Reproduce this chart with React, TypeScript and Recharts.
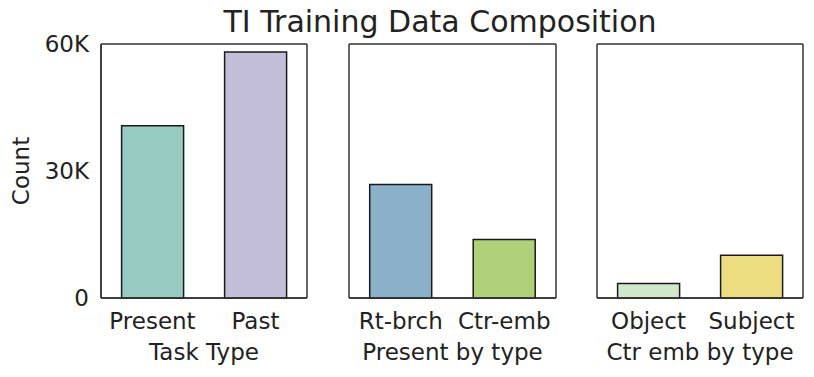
import { BarChart, Bar, XAxis, YAxis, Cell, CartesianGrid } from 'recharts';

const taskTypes = ['Present', 'Past'];
const taskCounts = [40700, 58100];
const presentTypes = ['Rt-brch', 'Ctr-emb'];
const presentCounts = [26800, 13800];
const ctrTypes = ['Object', 'Subject'];
const ctrCounts = [3400, 10100];
const yTicks = [0, 30000, 60000];

const FONT = 'DejaVu Sans';
const INK = '#222';
const FS = 23;

const fmtK = (v: number) => (v === 0 ? '0' : `${v / 1000}K`);

type PanelProps = {
  left: number;
  width: number;
  marginLeft: number;
  marginRight: number;
  cats: string[];
  counts: number[];
  colors: string[];
  xLabel: string;
  showY?: boolean;
};

const Panel = ({ left, width, marginLeft, marginRight, cats, counts, colors, xLabel, showY }: PanelProps) => {
  const data = cats.map((name, i) => ({ name, value: counts[i] }));
  return (
    <div style={{ position: 'absolute', left, top: 0 }}>
      <BarChart
        width={width}
        height={377}
        data={data}
        margin={{ top: 44, right: marginRight, bottom: 0, left: marginLeft }}
        barCategoryGap="20%"
        style={{ overflow: 'visible' }}
      >
        {/* frame around the plot area */}
        <CartesianGrid
          stroke="#333"
          strokeWidth={1.5}
          horizontalCoordinatesGenerator={({ offset }: any) => [offset.top, offset.top + offset.height]}
          verticalCoordinatesGenerator={({ offset }: any) => [offset.left, offset.left + offset.width]}
        />
        <XAxis
          dataKey="name"
          height={79}
          tickLine={false}
          tickSize={0}
          tickMargin={15}
          axisLine={{ stroke: '#333', strokeWidth: 1.5 }}
          tick={{ fill: INK, fontSize: FS, fontFamily: FONT }}
          interval={0}
          label={{ value: xLabel, position: 'insideTop', offset: 46, fill: INK, fontSize: FS, fontFamily: FONT }}
        />
        <YAxis
          domain={[0, 60000]}
          ticks={yTicks}
          tickFormatter={fmtK}
          width={showY ? 101 : 0}
          hide={!showY}
          tick={{ fill: INK, fontSize: FS, fontFamily: FONT }}
          tickLine={false}
          tickSize={0}
          tickMargin={12}
          axisLine={{ stroke: '#333', strokeWidth: 1.5 }}
          label={
            showY
              ? { value: 'Count', angle: -90, position: 'insideLeft', offset: 21, fill: INK, fontSize: FS, fontFamily: FONT, style: { textAnchor: 'middle' } }
              : undefined
          }
        />
        <Bar dataKey="value" stroke="#1a1a1a" strokeWidth={1.5} isAnimationActive={false}>
          {data.map((_, i) => (
            <Cell key={`c-${i}`} fill={colors[i]} />
          ))}
        </Bar>
      </BarChart>
    </div>
  );
};

export default function App() {
  return (
    <div style={{ position: 'absolute', left: 0, top: 0, width: 814, height: 377, background: '#fff', fontFamily: FONT }}>
      <div style={{ position: 'absolute', left: 40, top: 5, width: 800, textAlign: 'center', fontSize: 30, lineHeight: '34px', color: INK }}>
        TI Training Data Composition
      </div>
      <Panel left={0} width={320} marginLeft={0} marginRight={13} cats={taskTypes} counts={taskCounts} colors={['#98cbc2', '#c2bed8']} xLabel="Task Type" showY />
      <Panel left={330} width={240} marginLeft={19} marginRight={14} cats={presentTypes} counts={presentCounts} colors={['#8bb0ca', '#b0d07a']} xLabel="Present by type" />
      <Panel left={580} width={234} marginLeft={17} marginRight={11} cats={ctrTypes} counts={ctrCounts} colors={['#d1e7ca', '#ecdd80']} xLabel="Ctr emb by type" />
    </div>
  );
}
